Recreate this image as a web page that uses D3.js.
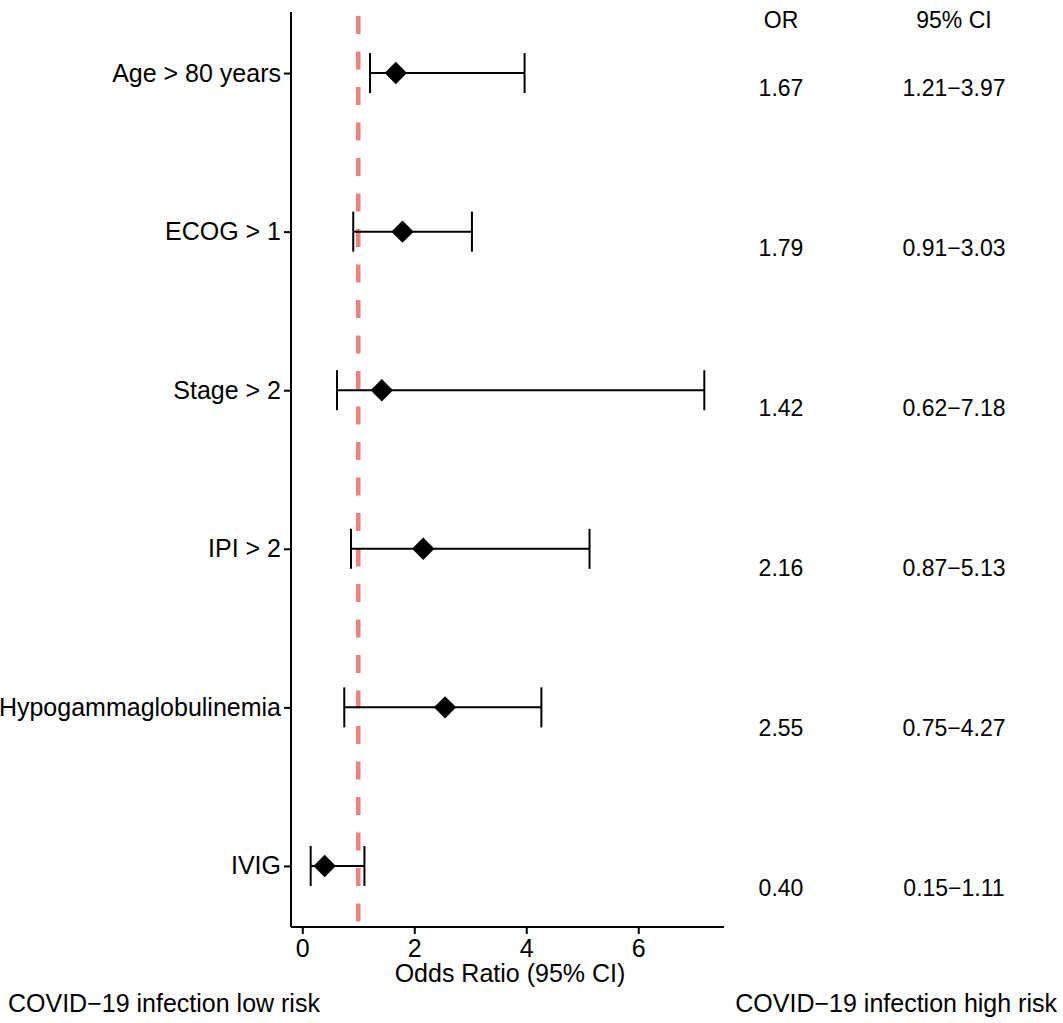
<!DOCTYPE html>
<html>
<head>
<meta charset="utf-8">
<script src="https://cdn.jsdelivr.net/npm/d3@7"></script>
<style>
  body { margin: 0; background: #fff; }
  text { font-family: "Liberation Sans", Arial, sans-serif; fill: #000; }
</style>
</head>
<body>
<div id="chart"></div>
<script>
// forest plot data
var factors = ["Age > 80 years", "ECOG > 1", "Stage > 2", "IPI > 2", "Hypogammaglobulinemia", "IVIG"];
var oddsRatio = [1.67, 1.79, 1.42, 2.16, 2.55, 0.40];
var ciLow = [1.21, 0.91, 0.62, 0.87, 0.75, 0.15];
var ciHigh = [3.97, 3.03, 7.18, 5.13, 4.27, 1.11];
var xTicks = [0, 2, 4, 6];
var refLine = 1;

var W = 1063, H = 1023;
var rows = factors.map(function(f, i){
  return {name: f, or: oddsRatio[i], lo: ciLow[i], hi: ciHigh[i]};
});

var svg = d3.select("#chart").append("svg")
  .attr("width", W)
  .attr("height", H);

// panel scales
var x = d3.scaleLinear().domain([-0.2015, 7.5315]).range([291, 724]);
var y = d3.scalePoint().domain(factors).range([12, 927]).padding(0.385);

// dashed reference line at OR = 1
svg.append("line")
  .attr("x1", x(refLine)).attr("x2", x(refLine))
  .attr("y1", 16).attr("y2", 927)
  .style("stroke", "#F08080")
  .style("stroke-width", 4.5)
  .style("stroke-dasharray", "18,17.5");

// axes
var xAxis = svg.append("g")
  .attr("transform", "translate(0,927)")
  .call(d3.axisBottom(x).tickValues(xTicks).tickSize(7).tickPadding(5).tickFormat(d3.format("d")));
var yAxis = svg.append("g")
  .attr("transform", "translate(291,0)")
  .call(d3.axisLeft(y).tickSize(7).tickPadding(3));

[xAxis, yAxis].forEach(function(g){
  g.select(".domain").style("stroke", "#000").style("stroke-width", 2);
  g.selectAll(".tick line").style("stroke", "#000").style("stroke-width", 2);
  g.selectAll(".tick text").style("font-size", "25px").style("fill", "#000")
    .style("font-family", "'Liberation Sans', Arial, sans-serif");
});
xAxis.select(".domain").attr("d", "M291,0H724");
yAxis.select(".domain").attr("d", "M0,12V927");

// error bars
var bars = svg.selectAll(".ci")
  .data(rows)
  .enter().append("g")
  .attr("class", "ci");

bars.append("line")
  .attr("x1", function(d){ return x(d.lo); })
  .attr("x2", function(d){ return x(d.hi); })
  .attr("y1", function(d){ return y(d.name); })
  .attr("y2", function(d){ return y(d.name); })
  .style("stroke", "#000").style("stroke-width", 2);

bars.selectAll(".cap")
  .data(function(d){ return [{v: d.lo, n: d.name}, {v: d.hi, n: d.name}]; })
  .enter().append("line")
  .attr("class", "cap")
  .attr("x1", function(d){ return x(d.v); })
  .attr("x2", function(d){ return x(d.v); })
  .attr("y1", function(d){ return y(d.n) - 20; })
  .attr("y2", function(d){ return y(d.n) + 20; })
  .style("stroke", "#000").style("stroke-width", 2);

// diamonds
var diamond = d3.symbol().type(d3.symbolSquare).size(250);
bars.append("path")
  .attr("d", diamond)
  .attr("transform", function(d){
    return "translate(" + x(d.or) + "," + y(d.name) + ") rotate(45)";
  })
  .style("fill", "#000");

// axis title
svg.append("text")
  .attr("x", 510).attr("y", 982)
  .attr("text-anchor", "middle")
  .style("font-size", "25px")
  .text("Odds Ratio (95% CI)");

// table on the right
var ty = d3.scalePoint().domain(factors).range([88, 888]);
var colOR = 781, colCI = 954;

svg.append("text").attr("x", colOR).attr("y", 20).attr("dy", "0.35em")
  .attr("text-anchor", "middle").style("font-size", "23px").text("OR");
svg.append("text").attr("x", colCI).attr("y", 20).attr("dy", "0.35em")
  .attr("text-anchor", "middle").style("font-size", "23px").text("95% CI");

svg.selectAll(".orText")
  .data(rows)
  .enter().append("text")
  .attr("class", "orText")
  .attr("x", colOR)
  .attr("y", function(d){ return ty(d.name); })
  .attr("dy", "0.35em")
  .attr("text-anchor", "middle")
  .style("font-size", "23px")
  .text(function(d){ return d.or.toFixed(2); });

svg.selectAll(".ciText")
  .data(rows)
  .enter().append("text")
  .attr("class", "ciText")
  .attr("x", colCI)
  .attr("y", function(d){ return ty(d.name); })
  .attr("dy", "0.35em")
  .attr("text-anchor", "middle")
  .style("font-size", "23px")
  .text(function(d){ return d.lo.toFixed(2) + "\u2212" + d.hi.toFixed(2); });

// risk direction labels
svg.append("text")
  .attr("x", 8).attr("y", 1012)
  .style("font-size", "25px")
  .text("COVID\u221219 infection low risk");
svg.append("text")
  .attr("x", 1057).attr("y", 1012)
  .attr("text-anchor", "end")
  .style("font-size", "25px")
  .text("COVID\u221219 infection high risk");
</script>
</body>
</html>
